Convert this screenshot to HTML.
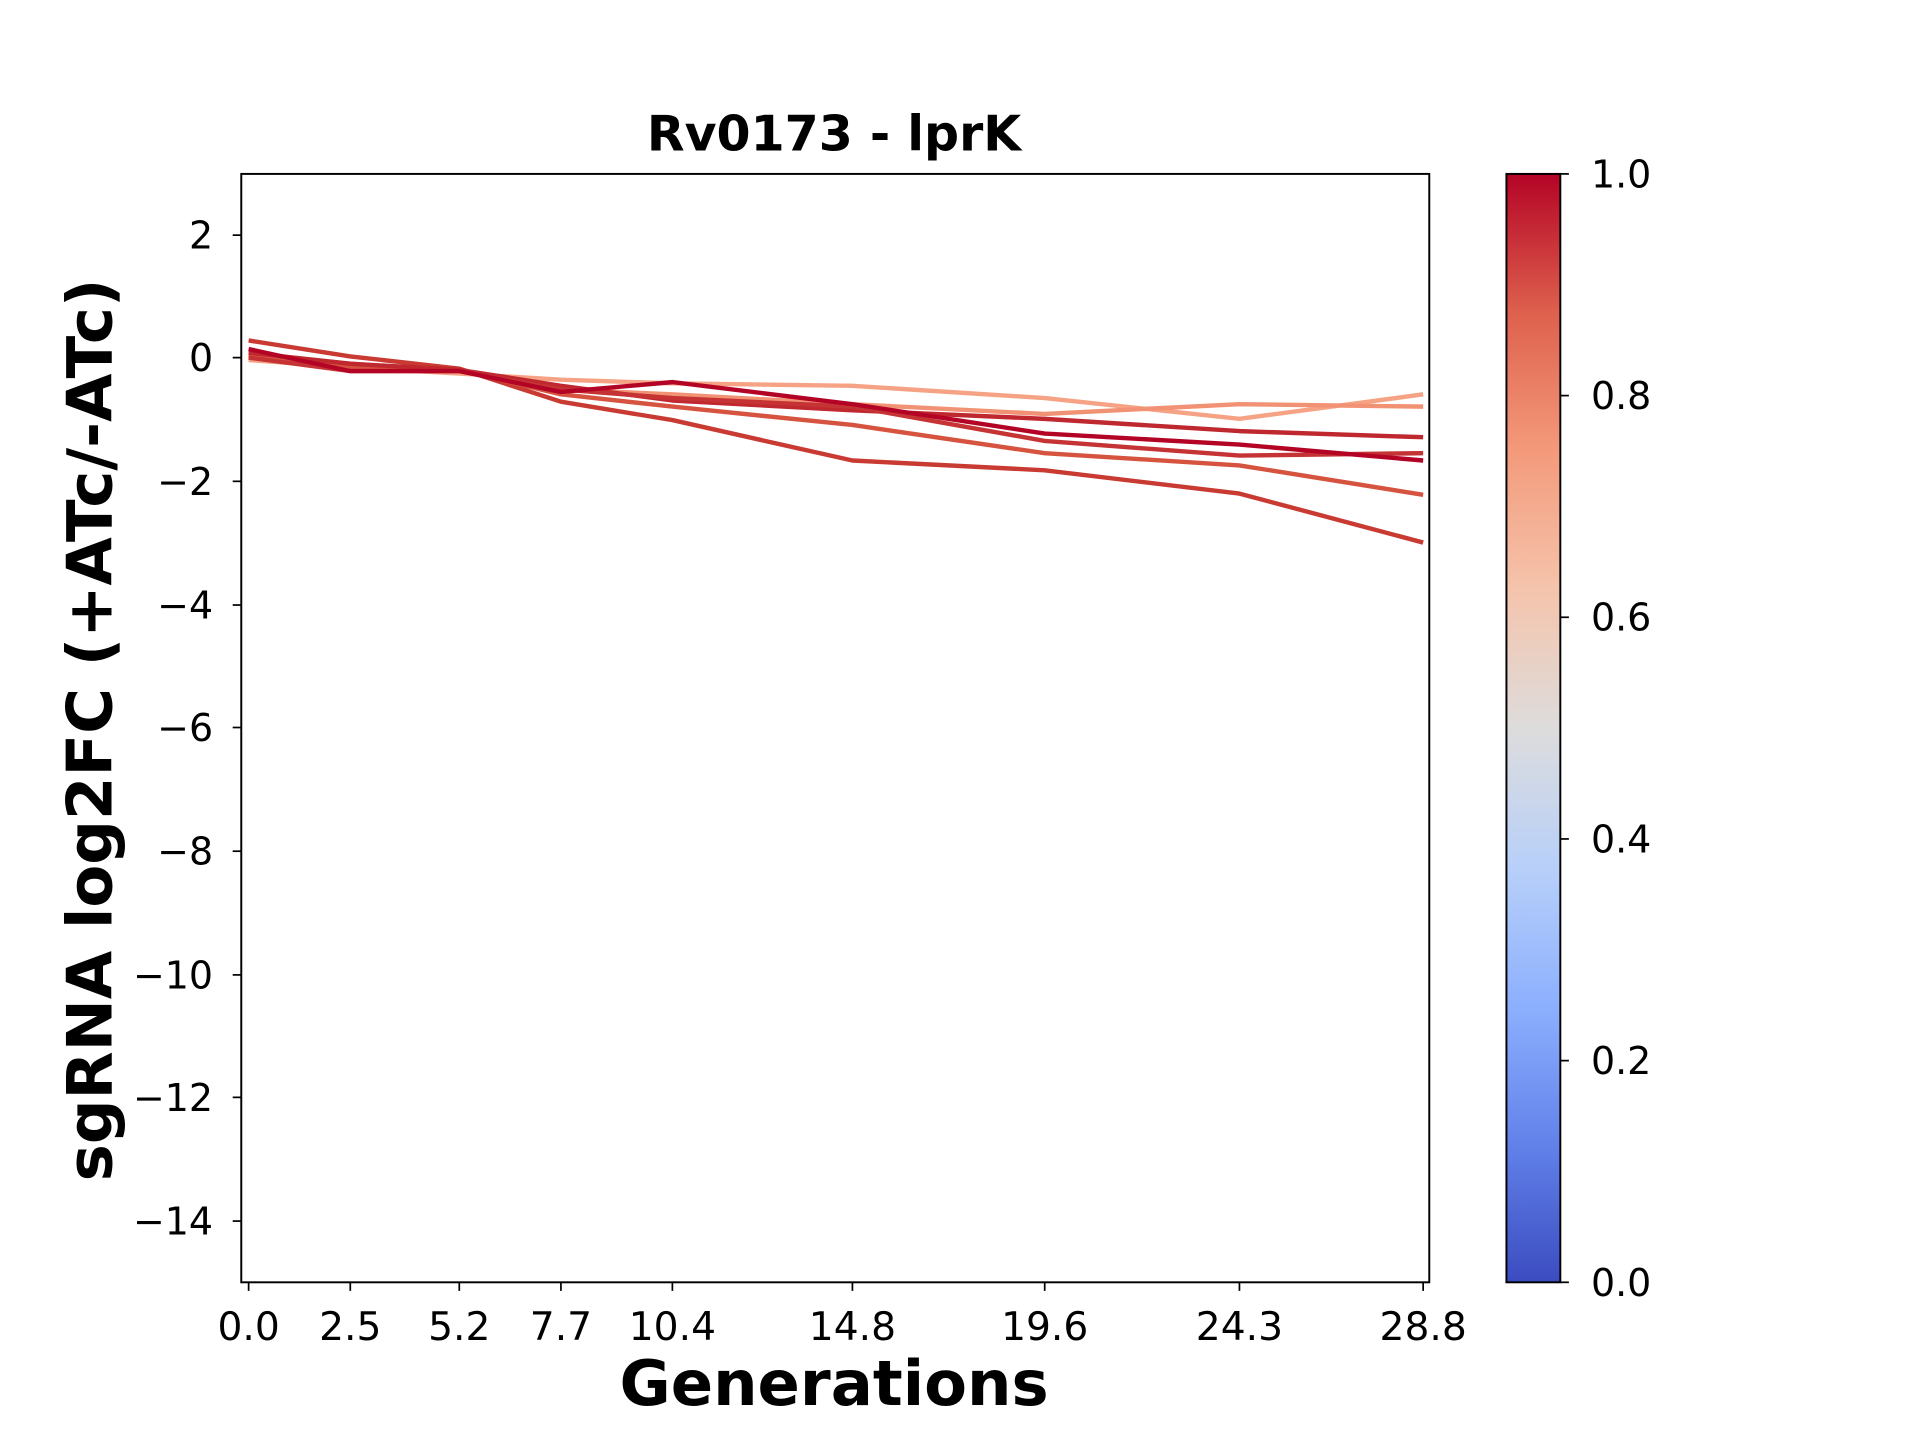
<!DOCTYPE html>
<html><head><meta charset="utf-8"><style>html,body{margin:0;padding:0;background:#fff}svg{display:block}</style></head>
<body>
<svg width="1920" height="1440" viewBox="0 0 1552 1164" preserveAspectRatio="none" xmlns="http://www.w3.org/2000/svg" font-family="DejaVu Sans, Liberation Sans, sans-serif">
<defs>
<linearGradient id="cw" x1="0" y1="1" x2="0" y2="0">
<stop offset="0" stop-color="#3b4cc0"/>
<stop offset="0.125" stop-color="#6282ea"/>
<stop offset="0.25" stop-color="#8db0fe"/>
<stop offset="0.375" stop-color="#b8d0f9"/>
<stop offset="0.5" stop-color="#dddcdc"/>
<stop offset="0.625" stop-color="#f5c4ac"/>
<stop offset="0.75" stop-color="#f49a7b"/>
<stop offset="0.875" stop-color="#de604d"/>
<stop offset="1" stop-color="#b40426"/>
</linearGradient>
</defs>
<rect width="1552" height="1164" fill="#fff"/>
<g transform="scale(0.99)">
<text x="681" y="123" font-size="40" font-weight="bold" text-anchor="middle">Rv0173 - lprK</text>
<g fill="none" stroke-width="3.6" stroke-linejoin="round">
<polyline stroke="#f6a385" points="203,294 286,300 375,305 458,310 549,313 696,315 853,325 1012,342 1162,322"/>
<polyline stroke="#f29274" points="203,290 286,297 375,303 458,318 549,322 696,330 853,338 1012,330 1162,332"/>
<polyline stroke="#c83a32" points="203,278 286,291 375,301 458,328 549,343 696,376 853,384 1012,403 1162,443"/>
<polyline stroke="#d6543f" points="203,290 286,300 375,302 458,322 549,332 696,347 853,370 1012,380 1162,404"/>
<polyline stroke="#c0282f" points="203,288 286,297 375,302 458,315 549,327 696,335 853,342 1012,352 1162,357"/>
<polyline stroke="#c53334" points="203,292 286,303 375,303 458,318 549,325 696,332 853,360 1012,372 1162,370"/>
<polyline stroke="#b40426" points="203,285 286,303 375,303 458,320 549,312 696,330 853,354 1012,363 1162,376"/>
</g>
<rect x="197" y="142" width="970" height="905" fill="none" stroke="#000" stroke-width="1.6"/>
<g stroke="#000" stroke-width="1.4">
<line x1="197" y1="192" x2="190" y2="192"/><line x1="197" y1="292" x2="190" y2="292"/><line x1="197" y1="393" x2="190" y2="393"/><line x1="197" y1="494" x2="190" y2="494"/><line x1="197" y1="594" x2="190" y2="594"/><line x1="197" y1="695" x2="190" y2="695"/><line x1="197" y1="796" x2="190" y2="796"/><line x1="197" y1="896" x2="190" y2="896"/><line x1="197" y1="997" x2="190" y2="997"/>
<line x1="203" y1="1047" x2="203" y2="1054"/><line x1="286" y1="1047" x2="286" y2="1054"/><line x1="375" y1="1047" x2="375" y2="1054"/><line x1="458" y1="1047" x2="458" y2="1054"/><line x1="549" y1="1047" x2="549" y2="1054"/><line x1="696" y1="1047" x2="696" y2="1054"/><line x1="853" y1="1047" x2="853" y2="1054"/><line x1="1012" y1="1047" x2="1012" y2="1054"/><line x1="1162" y1="1047" x2="1162" y2="1054"/>
</g>
<g font-size="31" text-anchor="end">
<text x="174" y="203">2</text><text x="174" y="303">0</text><text x="174" y="404">−2</text><text x="174" y="505">−4</text><text x="174" y="605">−6</text><text x="174" y="706">−8</text><text x="174" y="807">−10</text><text x="174" y="907">−12</text><text x="174" y="1008">−14</text>
</g>
<g font-size="32" text-anchor="middle">
<text x="203" y="1094">0.0</text><text x="286" y="1094">2.5</text><text x="375" y="1094">5.2</text><text x="458" y="1094">7.7</text><text x="549" y="1094">10.4</text><text x="696" y="1094">14.8</text><text x="853" y="1094">19.6</text><text x="1012" y="1094">24.3</text><text x="1162" y="1094">28.8</text>
</g>
<text x="681" y="1147" font-size="51" font-weight="bold" text-anchor="middle">Generations</text>
<text transform="translate(91,596) rotate(-90)" font-size="51" font-weight="bold" text-anchor="middle">sgRNA log2FC (+ATc/-ATc)</text>
<rect x="1230" y="142" width="44" height="905" fill="url(#cw)" stroke="#000" stroke-width="1.6"/>
<g stroke="#000" stroke-width="1.4">
<line x1="1274" y1="142" x2="1281" y2="142"/><line x1="1274" y1="323" x2="1281" y2="323"/><line x1="1274" y1="504" x2="1281" y2="504"/><line x1="1274" y1="685" x2="1281" y2="685"/><line x1="1274" y1="866" x2="1281" y2="866"/><line x1="1274" y1="1047" x2="1281" y2="1047"/>
</g>
<g font-size="31">
<text x="1299" y="153">1.0</text><text x="1299" y="334">0.8</text><text x="1299" y="515">0.6</text><text x="1299" y="696">0.4</text><text x="1299" y="877">0.2</text><text x="1299" y="1058">0.0</text>
</g>
</g>
</svg>
</body></html>
